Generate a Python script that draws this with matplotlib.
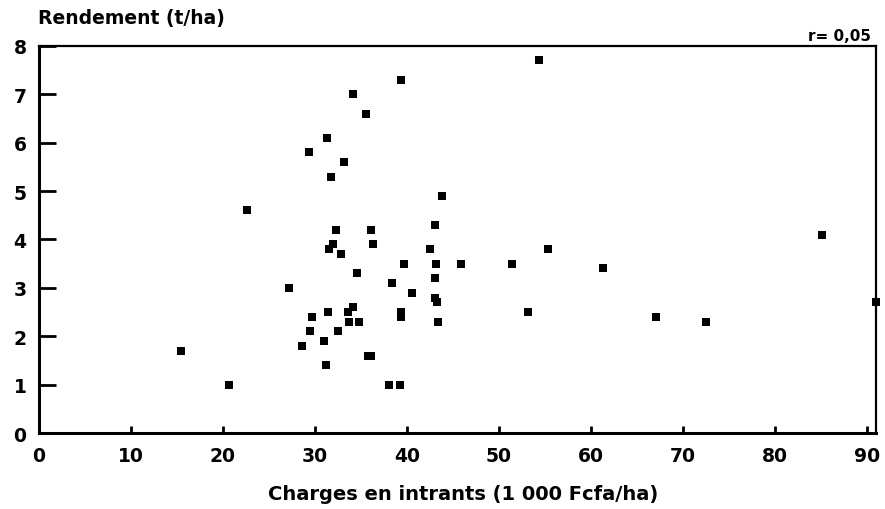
import matplotlib
matplotlib.use("Agg")
import matplotlib.pyplot as plt

# charges en intrants (1000 Fcfa/ha) et rendement (t/ha)
charges = [15.4, 20.7, 22.6, 27.2, 28.6, 29.4, 29.5, 29.7, 31.0, 31.2,
           31.3, 31.4, 31.5, 31.7, 32.0, 32.3, 32.5, 32.8, 33.2, 33.6,
           33.7, 34.1, 34.1, 34.6, 34.8, 35.5, 35.8, 36.1, 36.1, 36.3,
           38.1, 38.4, 39.2, 39.3, 39.3, 39.4, 39.7, 40.5, 42.5, 43.0,
           43.0, 43.1, 43.2, 43.3, 43.4, 43.8, 45.9, 51.4, 53.2, 54.3,
           55.3, 61.3, 67.1, 72.5, 85.1, 91.0]
rendement = [1.7, 1.0, 4.6, 3.0, 1.8, 5.8, 2.1, 2.4, 1.9, 1.4,
             6.1, 2.5, 3.8, 5.3, 3.9, 4.2, 2.1, 3.7, 5.6, 2.5,
             2.3, 7.0, 2.6, 3.3, 2.3, 6.6, 1.6, 1.6, 4.2, 3.9,
             1.0, 3.1, 1.0, 7.3, 2.5, 2.4, 3.5, 2.9, 3.8, 4.3,
             3.2, 2.8, 3.5, 2.7, 2.3, 4.9, 3.5, 3.5, 2.5, 7.7,
             3.8, 3.4, 2.4, 2.3, 4.1, 2.7]

x_ticks = [0, 10, 20, 30, 40, 50, 60, 70, 80, 90]
y_ticks = [0, 1, 2, 3, 4, 5, 6, 7, 8]

plt.rcParams["font.family"] = ["DejaVu Sans"]
plt.rcParams["font.weight"] = "bold"

fig = plt.figure(figsize=(8.85, 5.10), dpi=100)
ax = fig.add_axes([0.044, 0.149, 0.946, 0.759])

ax.scatter(charges, rendement, marker="s", s=30, color="black",
           linewidths=0, clip_on=False, zorder=3)

ax.set_xlim(0, 91)
ax.set_ylim(0, 8)
ax.set_xticks(x_ticks)
ax.set_yticks(y_ticks)
ax.tick_params(axis="x", direction="in", length=5, width=2, pad=9,
               labelsize=13.5)
ax.tick_params(axis="y", direction="in", length=12, width=2, pad=9,
               labelsize=13.5)
for lab in ax.get_xticklabels() + ax.get_yticklabels():
    lab.set_fontweight("bold")

for side in ["left", "bottom"]:
    ax.spines[side].set_linewidth(2.2)
for side in ["top", "right"]:
    ax.spines[side].set_linewidth(1.6)

fig.text(0.043, 0.963, "Rendement (t/ha)", ha="left", va="center",
         fontsize=13.5, fontweight="bold")
fig.text(0.984, 0.928, "r= 0,05", ha="right", va="center",
         fontsize=11, fontweight="bold")
fig.text(0.523, 0.03, "Charges en intrants (1 000 Fcfa/ha)", ha="center",
         va="center", fontsize=14, fontweight="bold")

fig.savefig("out.png", dpi=100)
